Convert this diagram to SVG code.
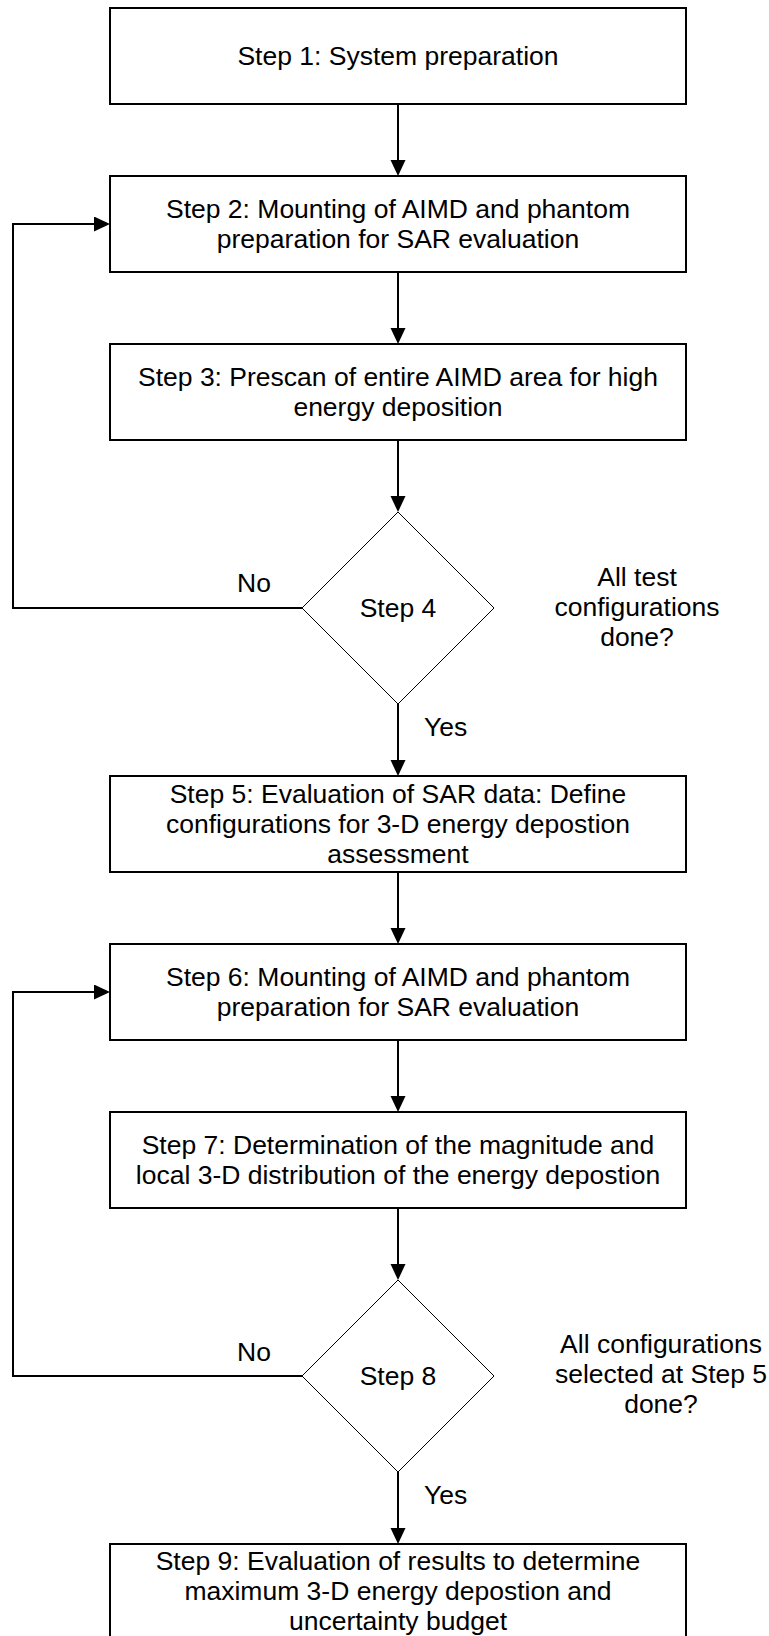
<svg xmlns="http://www.w3.org/2000/svg" width="769" height="1636" viewBox="0 0 769 1636">
<style>
.box{fill:#fff;stroke:#000;stroke-width:2}
.dia{fill:#fff;stroke:#000;stroke-width:1}
.con{fill:none;stroke:#000;stroke-width:2}
.t{font-family:"Liberation Sans",Arial,sans-serif;font-size:26.5px;fill:#000;text-anchor:middle}
.l{font-family:"Liberation Sans",Arial,sans-serif;font-size:26.5px;fill:#000}
</style>
<defs>
<marker id="ah" markerUnits="userSpaceOnUse" markerWidth="17" markerHeight="16" refX="0" refY="7.5" orient="auto">
<path d="M0,0 L16,7.5 L0,15 z" fill="#000"/>
</marker>
</defs>
<rect width="769" height="1636" fill="#fff"/>
<g id="connectors">
<line class="con" x1="398" y1="104" x2="398" y2="160" marker-end="url(#ah)"/>
<line class="con" x1="398" y1="272" x2="398" y2="328" marker-end="url(#ah)"/>
<line class="con" x1="398" y1="440" x2="398" y2="496" marker-end="url(#ah)"/>
<line class="con" x1="398" y1="704" x2="398" y2="760" marker-end="url(#ah)"/>
<line class="con" x1="398" y1="872" x2="398" y2="928" marker-end="url(#ah)"/>
<line class="con" x1="398" y1="1040" x2="398" y2="1096" marker-end="url(#ah)"/>
<line class="con" x1="398" y1="1208" x2="398" y2="1264" marker-end="url(#ah)"/>
<line class="con" x1="398" y1="1472" x2="398" y2="1528" marker-end="url(#ah)"/>
<polyline class="con" points="302,608 13,608 13,224 94,224" marker-end="url(#ah)"/>
<polyline class="con" points="302,1376 13,1376 13,992 94,992" marker-end="url(#ah)"/>
<text class="l" x="237" y="592">No</text>
<text class="l" x="424" y="736">Yes</text>
<text class="l" x="237" y="1361">No</text>
<text class="l" x="424" y="1504">Yes</text>
</g>
<g id="step1">
<rect class="box" x="110" y="8" width="576" height="96"/>
<text class="t" x="398" y="65">Step 1: System preparation</text>
</g>
<g id="step2">
<rect class="box" x="110" y="176" width="576" height="96"/>
<text class="t" x="398" y="218">Step 2: Mounting of AIMD and phantom</text>
<text class="t" x="398" y="248">preparation for SAR evaluation</text>
</g>
<g id="step3">
<rect class="box" x="110" y="344" width="576" height="96"/>
<text class="t" x="398" y="386">Step 3: Prescan of entire AIMD area for high</text>
<text class="t" x="398" y="416">energy deposition</text>
</g>
<g id="step4">
<polygon class="dia" points="398,512 494,608 398,704 302,608"/>
<text class="t" x="398" y="617">Step 4</text>
<text class="t" x="637" y="586">All test</text>
<text class="t" x="637" y="616">configurations</text>
<text class="t" x="637" y="646">done?</text>
</g>
<g id="step5">
<rect class="box" x="110" y="776" width="576" height="96"/>
<text class="t" x="398" y="803">Step 5: Evaluation of SAR data: Define</text>
<text class="t" x="398" y="833">configurations for 3-D energy depostion</text>
<text class="t" x="398" y="863">assessment</text>
</g>
<g id="step6">
<rect class="box" x="110" y="944" width="576" height="96"/>
<text class="t" x="398" y="986">Step 6: Mounting of AIMD and phantom</text>
<text class="t" x="398" y="1016">preparation for SAR evaluation</text>
</g>
<g id="step7">
<rect class="box" x="110" y="1112" width="576" height="96"/>
<text class="t" x="398" y="1154">Step 7: Determination of the magnitude and</text>
<text class="t" x="398" y="1184">local 3-D distribution of the energy depostion</text>
</g>
<g id="step8">
<polygon class="dia" points="398,1280 494,1376 398,1472 302,1376"/>
<text class="t" x="398" y="1385">Step 8</text>
<text class="t" x="661" y="1353">All configurations</text>
<text class="t" x="661" y="1383">selected at Step 5</text>
<text class="t" x="661" y="1413">done?</text>
</g>
<g id="step9">
<rect class="box" x="110" y="1544" width="576" height="96"/>
<text class="t" x="398" y="1570">Step 9: Evaluation of results to determine</text>
<text class="t" x="398" y="1600">maximum 3-D energy depostion and</text>
<text class="t" x="398" y="1630">uncertainty budget</text>
</g>
</svg>
